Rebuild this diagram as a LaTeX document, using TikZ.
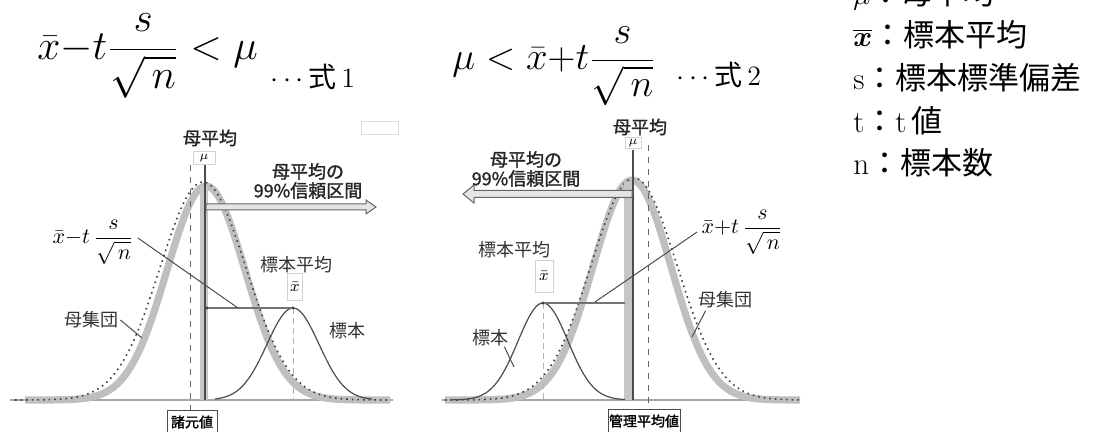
\documentclass[tikz,border=0pt]{standalone}
\usepackage{amsmath}
\usepackage{graphicx}
\usepackage{fontspec}
\newfontfamily\jp{Noto Sans CJK JP}
\newfontfamily\jpb[FakeBold=1.6]{Noto Sans CJK JP}
\usetikzlibrary{calc}
\tikzset{
  lbl/.style={font=\jp\fontsize{9}{10}\selectfont, inner sep=0pt, text=black!80},
  blbl/.style={font=\jpb\fontsize{9}{9.5}\selectfont, inner sep=0pt, align=center, text=black!85},
  band/.style={gray!50, line width=3.6pt},
  dotc/.style={black!75, dotted, line width=0.8pt},
  samp/.style={black!70, line width=0.6pt},
  axisln/.style={gray!70, line width=0.6pt},
  lead/.style={black!70, line width=0.5pt},
  vdash/.style={black!60, dashed, line width=0.4pt},
  sdash/.style={gray!60, densely dashed, line width=0.4pt},
  smallbox/.style={draw=gray!35, fill=white, inner sep=0pt, font=\fontsize{6}{6}\selectfont},
  tagbox/.style={draw=black!70, fill=white, inner sep=0pt, font=\jpb\fontsize{7}{7}\selectfont},
  arr/.style={fill=gray!20, draw=black!60, line width=0.5pt},
  legend/.style={anchor=base west, inner sep=0pt, font=\fontsize{15.5}{17}\selectfont},
}
\begin{document}
\begin{tikzpicture}[x=0.5pt,y=-0.5pt]
\useasboundingbox (0,0) rectangle (1093,432);

% ---------- formulas ----------
\node[anchor=base west, inner sep=0pt, font=\fontsize{17.28}{20}\selectfont] (f1) at (37,60) {\scalebox{1.2}{$\bar{x}{-}t\dfrac{s}{\sqrt{\,n}}<\mu$}};
\node[anchor=base west, inner sep=0pt, font=\fontsize{14}{16}\selectfont] (e1) at (270,88) {$\cdots${\jp 式}\,1};
\node[anchor=base west, inner sep=0pt, font=\fontsize{17.28}{19}\selectfont] (f2) at (452,70) {\scalebox{1.12}{$\mu<\bar{x}{+}t\dfrac{s}{\sqrt{\,n}}$}};
\node[anchor=base west, inner sep=0pt, font=\fontsize{14}{16}\selectfont] (e2) at (676,86) {$\cdots${\jp 式}\,2};

% ---------- legend ----------
\node[legend] (g0) at (853,5) {$\mu${\jp ：母平均}};
\node[legend] (g1) at (853,47) {$\boldsymbol{\overline{x}}${\jp ：標本平均}};
\node[legend] (g2) at (853,90) {s{\jp ：標本標準偏差}};
\node[legend] (g3) at (853,133) {t{\jp ：}t\,{\jp 値}};
\node[legend] (g4) at (853,175) {n{\jp ：標本数}};

% ================= left diagram =================
\draw[axisln] (10,400) -- (393,400);
\draw[band] plot[domain=25:390, samples=120, smooth] (\x,{400-214*exp(-((\x-206)/39)*((\x-206)/39)/2)});
\draw[dotc] plot[domain=15:390, samples=120, smooth] (\x,{400-218*exp(-((\x-203)/43)*((\x-203)/43)/2)});
\fill[gray!45] (200,186) rectangle (208,400);
\coordinate (tL) at (205,165);
\coordinate (bL) at (205,400);
\draw[black!70, line width=1pt] (tL) -- (bL);
\coordinate (dLt) at (190,165);
\node[tagbox, minimum width=25pt, minimum height=12pt] (tagL) at (192,422) {諸元値};
\draw[vdash] (dLt) -- (tagL.north -| dLt);

\node[smallbox, minimum width=11pt, minimum height=6.5pt] (muL) at (204,158) {$\mu$};
\node[blbl] (mpL) at (210,138) {母平均};
\node[draw=gray!25, minimum width=18.5pt, minimum height=6.5pt, inner sep=0pt] (emp) at (380,128) {};

% arrow right
\coordinate (aL0) at (206,207);
\coordinate (aL1) at (376,207);
\filldraw[arr] ($(aL0)+(0,-3)$) -- ($(aL1)+(-10,-3)$) -- ($(aL1)+(-10,-7)$) -- (aL1) -- ($(aL1)+(-10,7)$) -- ($(aL1)+(-10,3)$) -- ($(aL0)+(0,3)$) -- cycle;
\node[blbl] (ciL) at (308,181) {母平均の\\99\%信頼区間};

% sample
\draw[samp] plot[domain=215:372, samples=80, smooth] (\x,{400-92*exp(-((\x-293)/26)*((\x-293)/26)/2)});
\coordinate (pkL) at (293,308);
\coordinate (hL) at (207,308);
\draw[sdash] (pkL) -- (293,400);
\draw[black!55, line width=0.6pt] (hL) -- (pkL);
\fill[black!75] (hL) circle (1.6);
\fill[black!75] (pkL) circle (1.6);
\node[smallbox, minimum width=7.5pt, minimum height=13.5pt, font=\fontsize{8}{8}\selectfont] (xbL) at (295,287) {$\bar{x}$};
\node[lbl] (smL) at (296,265) {標本平均};
\node[lbl] (spL) at (347,331) {標本};
\node[lbl] (popL) at (91,320) {母集団};
\coordinate (popLe) at (142,338);
\draw[lead] (popL.east) ++(2,0) -- (popLe);

\node[inner sep=0pt, font=\fontsize{10.5}{12}\selectfont] (lblL) at (93,242) {$\bar{x}{-}t\,\dfrac{s}{\sqrt{\,n}}$};
\coordinate (lLe) at (238,308);
\draw[lead] (lblL.east) ++(4,-4) -- (lLe);

% ================= right diagram =================
\draw[axisln] (442,400) -- (800,400);
\draw[band] plot[domain=445:800, samples=120, smooth] (\x,{400-220*exp(-((\x-632)/39)*((\x-632)/39)/2)});
\draw[dotc] plot[domain=445:800, samples=120, smooth] (\x,{400-222*exp(-((\x-634)/43)*((\x-634)/43)/2)});
\fill[gray!45] (624,182) rectangle (632,400);
\coordinate (tR) at (633,150);
\coordinate (bR) at (633,400);
\draw[black!70, line width=1pt] (tR) -- (bR);
\coordinate (dRt) at (648,145);
\node[tagbox, minimum width=36pt, minimum height=12pt] (tagR) at (644,421) {管理平均値};
\draw[vdash] (dRt) -- (tagR.north -| dRt);

\node[smallbox, minimum width=8pt, minimum height=5.5pt] (muR) at (633,143) {$\mu$};
\node[blbl] (mpR) at (640,127) {母平均};

% arrow left
\coordinate (aR0) at (632,194);
\coordinate (aR1) at (463,194);
\filldraw[arr] ($(aR0)+(0,-3.5)$) -- ($(aR1)+(11,-3.5)$) -- ($(aR1)+(11,-9)$) -- (aR1) -- ($(aR1)+(11,9)$) -- ($(aR1)+(11,3.5)$) -- ($(aR0)+(0,3.5)$) -- cycle;
\node[blbl] (ciR) at (526,169) {母平均の\\99\%信頼区間};

% sample
\draw[samp] plot[domain=450:625, samples=80, smooth] (\x,{400-97*exp(-((\x-543)/25)*((\x-543)/25)/2)});
\coordinate (pkR) at (543,303);
\coordinate (hR) at (625,303);
\draw[sdash] (pkR) -- (543,400);
\draw[black!55, line width=0.6pt] (pkR) -- (hR);
\fill[black!75] (pkR) circle (1.6);
\node[smallbox, minimum width=9pt, minimum height=16pt, font=\fontsize{8}{8}\selectfont] (xbR) at (544,276) {$\bar{x}$};
\node[lbl] (smR) at (514,250) {標本平均};
\node[lbl] (spR) at (490,338) {標本};
\coordinate (spRe) at (514,367);
\draw[lead] (spR.south east) ++(-4,0) -- (spRe);
\node[lbl] (popR) at (725,300) {母集団};
\coordinate (popRe) at (692,337);
\draw[lead] (popR.south west) ++(8,2) -- (popRe);

\node[inner sep=0pt, font=\fontsize{10.5}{12}\selectfont] (lblR) at (742,232) {$\bar{x}{+}t\,\dfrac{s}{\sqrt{\,n}}$};
\coordinate (lRe) at (595,302);
\draw[lead] (lblR.west) ++(-4,0) -- (lRe);
\end{tikzpicture}
\end{document}
